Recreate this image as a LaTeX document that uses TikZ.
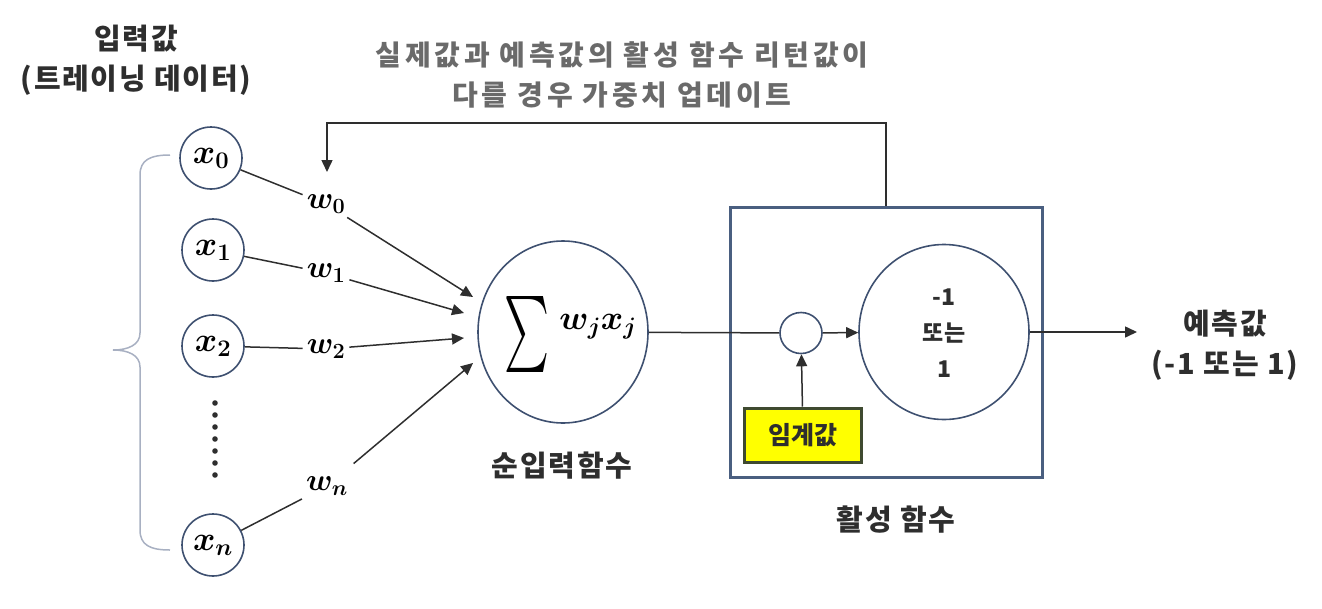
\RequirePackage{fix-cm}
\documentclass[tikz,border=0pt]{standalone}
\usepackage{fontspec}
\usepackage{bm}
\usepackage{graphicx}
\newfontfamily\kr{Noto Sans CJK KR}
\usetikzlibrary{arrows.meta,shapes.geometric}
\definecolor{txt}{HTML}{2E2E2E}
\definecolor{fbtxt}{HTML}{6A6A6A}
\definecolor{circ}{HTML}{3E5070}
\definecolor{boxc}{HTML}{4A5F80}
\definecolor{bracec}{HTML}{A8B0C2}
\definecolor{thbord}{HTML}{3F4A30}
\definecolor{thfill}{HTML}{FFFF00}
\begin{document}
\begin{tikzpicture}[x=1pt,y=-1pt,
  kt/.style={font=\kr\bfseries\fontsize{29}{40}\selectfont\addfontfeature{LetterSpace=6}, text=txt, align=center, inner sep=0},
  inp/.style={circle, draw=circ, line width=1.6, minimum size=62, inner sep=0, font=\fontsize{34}{34}\selectfont},
  wl/.style={font=\fontsize{31}{31}\selectfont, inner sep=4},
  conn/.style={line width=1.5, draw=txt},
  arr/.style={conn, -{Triangle[length=12,width=11]}},
  ell/.style={ellipse, draw=circ, line width=1.6, inner sep=0},
]
\useasboundingbox (0,0) rectangle (1322,608);
% titles
\node[kt] (title) at (136,60) {입력값\\(트레이닝 데이터)};
\node[kt, text=fbtxt, font=\kr\bfseries\fontsize{28}{40}\selectfont\addfontfeature{LetterSpace=13}] (fbtext) at (622,75) {실제값과 예측값의 활성 함수 리턴값이\\다를 경우 가중치 업데이트};
% brace
\draw[bracec, line width=1.5] (170,155) .. controls (150,155) and (140,160) .. (140,175) -- (140,333)
  .. controls (140,345) and (128,350) .. (113,350) .. controls (128,350) and (140,355) .. (140,367)
  -- (140,530) .. controls (140,545) and (150,550) .. (170,550);
% inputs
\node[inp] (x0) at (211,158) {$\bm{x}_{\bm 0}$};
\node[inp] (x1) at (213,250) {$\bm{x}_{\bm 1}$};
\node[inp] (x2) at (213,346) {$\bm{x}_{\bm 2}$};
\node[inp] (xn) at (213,545) {$\bm{x}_{\bm n}$};
\foreach \yy in {403,415,...,475} \fill[txt] (215,\yy) circle (2.8);
% weights
\node[wl] (w0) at (326,204) {$\bm{w}_{\bm 0}$};
\node[wl] (w1) at (326,273) {$\bm{w}_{\bm 1}$};
\node[wl] (w2) at (326,349) {$\bm{w}_{\bm 2}$};
\node[wl] (wn) at (327,486) {$\bm{w}_{\bm n}$};
\coordinate (t0) at (473,297);
\coordinate (t1) at (464,313);
\coordinate (t2) at (464,338);
\coordinate (tn) at (473,363);
\draw[conn] (x0) -- (w0);
\draw[arr] (w0) -- (t0);
\draw[conn] (x1) -- (w1);
\draw[arr] (w1) -- (t1);
\draw[conn] (x2) -- (w2);
\draw[arr] (w2) -- (t2);
\draw[conn] (xn) -- (wn);
\draw[arr, shorten <=14] (wn) -- (tn);
% sum
\node[ell, minimum width=170, minimum height=182] (sum) at (563,332) {};
\node[inner sep=0] (sig) at (527,334) {\resizebox*{45pt}{76pt}{$\sum$}};
\node[inner sep=0, font=\fontsize{34}{34}\selectfont] (wx) at (598,327) {$\bm{w_j x_j}$};
\node[kt] (sumlbl) at (562,466) {순입력함수};
% activation box
\node[draw=boxc, line width=3, minimum width=312, minimum height=270, inner sep=0] (act) at (886,342) {};
\node[kt] (actlbl) at (896,520) {활성 함수};
\node[ell, minimum width=42, minimum height=41] (sm) at (801,333) {};
\node[ell, minimum width=170, minimum height=175] (out) at (944,332) {};
\node[kt, font=\kr\bfseries\fontsize{23}{36}\selectfont] (outtxt) at (944,333) {-1\\또는\\1};
\node[draw=thbord, fill=thfill, line width=3, minimum width=117, minimum height=54, inner sep=0, kt, font=\kr\bfseries\fontsize{25}{30}\selectfont] (th) at (803,435) {임계값};
\draw[conn] (sum) -- (sm);
\draw[arr] (sm) -- (out);
\draw[arr] (th) -- (sm);
\coordinate (o) at (1137,332);
\draw[arr] (out) -- (o);
\node[kt] (pred) at (1225,345) {예측값\\(-1 또는 1)};
% feedback
\coordinate (fb1) at (886,123);
\coordinate (fb2) at (327,123);
\coordinate (fbend) at (327,172);
\draw[arr] (act.north) -- (fb1) -- (fb2) -- (fbend);
\end{tikzpicture}
\end{document}
